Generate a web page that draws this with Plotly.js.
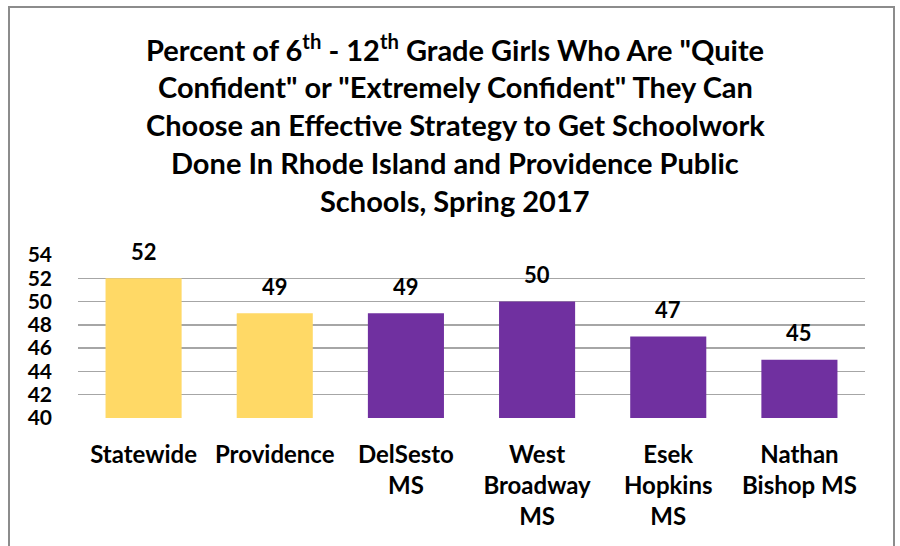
<!DOCTYPE html>
<html>
<head>
<meta charset="utf-8">
<script src="https://cdn.plot.ly/plotly-3.0.1.min.js"></script>
<style>
  html, body { margin: 0; padding: 0; background: #fff; }
  #wrap { position: relative; width: 900px; height: 546px; overflow: hidden; }
  #chart { width: 900px; height: 546px; }
  #frame { position: absolute; left: 8px; top: 6px; width: 887px; height: 600px; border: 2px solid #8c8c8c; box-sizing: border-box; pointer-events: none; }
</style>
</head>
<body>
<div id="wrap"><div id="chart"></div><div id="frame"></div></div>
<script>
const categories = ["Statewide", "Providence", "DelSesto<br>MS", "West<br>Broadway<br>MS", "Esek<br>Hopkins<br>MS", "Nathan<br>Bishop MS"];
const values = [52, 49, 49, 50, 47, 45];
const barColors = ["#FFD966", "#FFD966", "#7030A0", "#7030A0", "#7030A0", "#7030A0"];
const titleLines = [
  'Percent of 6<sup>th</sup> - 12<sup>th</sup> Grade Girls Who Are "Quite',
  'Confident" or "Extremely Confident" They Can',
  'Choose an Effective Strategy to Get Schoolwork',
  'Done In Rhode Island and Providence Public',
  'Schools, Spring 2017'
];
const yTicks = [40, 42, 44, 46, 48, 50, 52, 54];

const FONT = "Lato, 'Open Sans', sans-serif";
const plotTop = 255, plotBottom = 418, plotLeft = 78, plotRight = 865;
const ph = plotBottom - plotTop, pw = plotRight - plotLeft;
const titleCenters = [48, 86, 124, 162, 200];

const annotations = [];
titleLines.forEach((t, i) => {
  annotations.push({
    text: '<b>' + t + '</b>', xref: 'paper', yref: 'paper',
    x: (455 - plotLeft) / pw, y: (plotBottom - titleCenters[i]) / ph,
    xanchor: 'center', yanchor: 'middle', showarrow: false,
    font: { family: FONT, size: 29, color: '#000' }
  });
});
categories.forEach((c, i) => {
  annotations.push({
    text: '<b>' + values[i] + '</b>', x: c, y: values[i], xref: 'x', yref: 'y',
    yanchor: 'middle', yshift: 27, showarrow: false,
    font: { family: FONT, size: 22, color: '#000' }
  });
});

const trace = {
  type: 'bar', x: categories, y: values,
  marker: { color: barColors },
  hoverinfo: 'none'
};

const layout = {
  width: 900, height: 546,
  margin: { l: plotLeft, r: 900 - plotRight, t: plotTop, b: 546 - plotBottom, pad: 0 },
  paper_bgcolor: '#fff', plot_bgcolor: '#fff',
  showlegend: false,
  bargap: 0.42,
  font: { family: FONT, color: '#000' },
  xaxis: {
    type: 'category',
    tickvals: categories,
    ticktext: categories.map(c => '<b>' + c + '</b>'),
    tickfont: { family: FONT, size: 24, color: '#000' },
    showline: false, showgrid: false, zeroline: false, ticks: '',
    ticklabelstandoff: 20
  },
  yaxis: {
    range: [40, 54], tickvals: yTicks,
    ticktext: yTicks.map(v => '<b>' + v + '</b>'),
    tickfont: { family: FONT, size: 21, color: '#000' },
    showgrid: true, gridcolor: '#a6a6a6', gridwidth: 1.3,
    zeroline: false, showline: false, ticks: '',
    ticklabelstandoff: 25
  },
  annotations: annotations
};

Plotly.newPlot('chart', [trace], layout, { staticPlot: true, displayModeBar: false });
</script>
</body>
</html>
